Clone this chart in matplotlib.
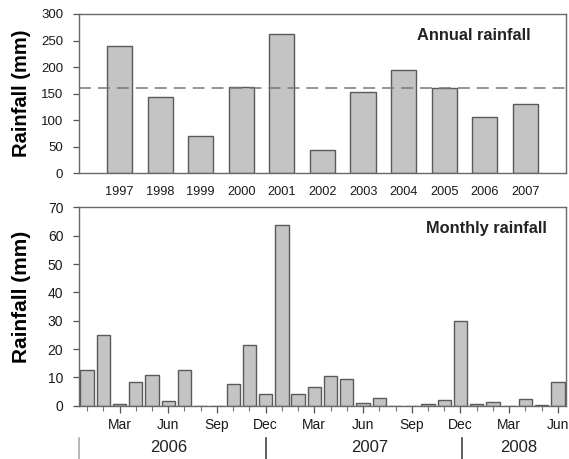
import numpy as np
import matplotlib
matplotlib.use("Agg")
import matplotlib.pyplot as plt
from matplotlib.transforms import blended_transform_factory

plt.rcParams['font.family'] = ['Liberation Sans', 'DejaVu Sans']

# annual totals
years = ['1997', '1998', '1999', '2000', '2001', '2002', '2003', '2004', '2005', '2006', '2007']
annual_mm = [240, 143, 69, 163, 263, 43.5, 152.5, 193.5, 160, 106, 131]
long_term_mean = 160

# monthly totals, Jan 2006 - Jun 2008
monthly_mm = [12.7, 25.0, 0.5, 8.4, 11.0, 1.8, 12.7, 0.0, 0.0, 7.7, 21.4, 4.1,
              63.9, 4.1, 6.7, 10.4, 9.5, 1.1, 2.7, 0.0, 0.0, 0.5, 1.9, 30.0,
              0.6, 1.3, 0.0, 2.2, 0.2, 8.2]
month_names = ['Jan', 'Feb', 'Mar', 'Apr', 'May', 'Jun',
               'Jul', 'Aug', 'Sep', 'Oct', 'Nov', 'Dec']
year_names = ['2006', '2007', '2008']

bar_face = '#c4c4c4'
bar_edge = '#5a5a5a'
spine_col = '#6a6a6a'

fig = plt.figure(figsize=(5.69, 4.59), dpi=100)
ax1 = fig.add_axes([0.1388, 0.623, 0.8559, 0.3465])
ax2 = fig.add_axes([0.1388, 0.1161, 0.8559, 0.4319])

for ax in (ax1, ax2):
    for s in ax.spines.values():
        s.set_color(spine_col)
        s.set_linewidth(1.0)
    ax.tick_params(colors='#555555', labelcolor='#1a1a1a', labelsize=9.5,
                   direction='out', width=0.9)
    ax.tick_params(axis='y', length=4.3, pad=7)

# --- annual ---
xa = np.arange(len(years))
ax1.bar(xa, annual_mm, width=0.62, color=bar_face, edgecolor=bar_edge, linewidth=1.0, zorder=2)
ax1.axhline(long_term_mean, color='#777777', lw=1.1, dashes=(7.8, 4.6), zorder=3)
ax1.set_xlim(-1.0, len(years))
ax1.set_ylim(0, 300)
ax1.set_yticks(np.arange(0, 301, 50))
ax1.set_xticks(xa)
ax1.set_xticklabels(years, fontsize=9.2)
ax1.tick_params(axis='x', length=0, pad=9)
ax1.set_ylabel('Rainfall (mm)', fontsize=14.5, fontweight='bold')
ax1.yaxis.set_label_coords(-0.098, 0.5)
fig.text(0.833, 0.9237, 'Annual rainfall', ha='center', va='center',
         fontsize=11.8, fontweight='bold', color='#222222')

# --- monthly ---
xm = np.arange(len(monthly_mm))
ax2.bar(xm, monthly_mm, width=0.82, color=bar_face, edgecolor=bar_edge, linewidth=1.0, zorder=2)
ax2.set_xlim(-0.5, len(monthly_mm) - 0.5)
ax2.set_ylim(0, 70)
ax2.set_yticks(np.arange(0, 71, 10))
major = [i for i in xm if i % 3 == 2]
ax2.set_xticks(major)
ax2.set_xticklabels([month_names[i % 12] for i in major], fontsize=10)
ax2.set_xticks(xm, minor=True)
ax2.tick_params(axis='x', which='major', length=5, pad=4)
ax2.tick_params(axis='x', which='minor', length=3.5, width=0.8, colors='#777777')
ax2.tick_params(axis='y', labelsize=10)
ax2.set_ylabel('Rainfall (mm)', fontsize=15, fontweight='bold')
ax2.yaxis.set_label_coords(-0.098, 0.551)
fig.text(0.855, 0.503, 'Monthly rainfall', ha='center', va='center',
         fontsize=11.8, fontweight='bold', color='#222222')

# year bands under the month axis
trans = blended_transform_factory(ax2.transData, ax2.transAxes)
for xsep, col in zip([-0.5, 11.05, 23.1], ['#aaaaaa', '#444444', '#444444']):
    ax2.plot([xsep, xsep], [-0.163, -0.28], transform=trans, color=col,
             lw=1.2, clip_on=False)
for xlab, name in zip([5.0, 17.4, 26.6], year_names):
    ax2.text(xlab, -0.213, name, transform=trans, ha='center', va='center',
             fontsize=12, color='#222222')

fig.savefig('out.png', dpi=100)
